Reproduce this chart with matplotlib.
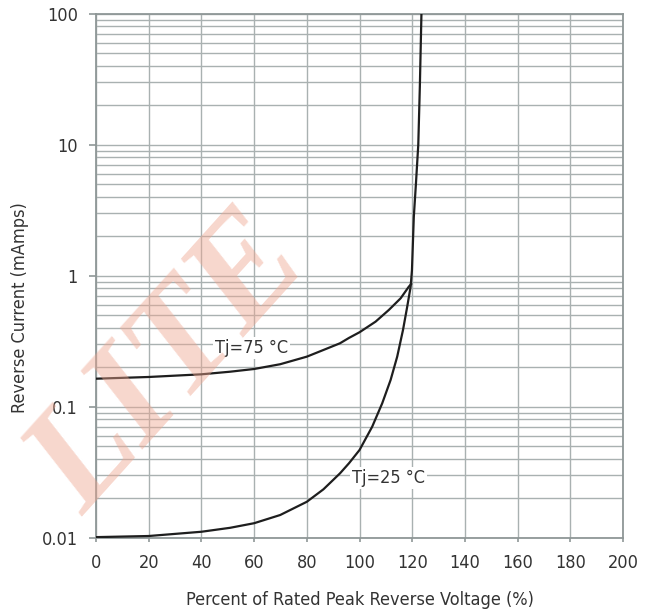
import matplotlib
matplotlib.use('Agg')
import matplotlib.pyplot as plt
from matplotlib import font_manager
from matplotlib.ticker import LogLocator, NullFormatter, FixedLocator, FixedFormatter

# data
pct_25 = [0, 20, 40, 50.9, 60, 69.9, 80, 86.3, 92.6, 96, 100, 104.8, 108.6, 111.8,
          114.3, 116.5, 118.1, 119.4, 119.9, 120.6, 121.4, 122.3, 122.9, 123.5]
cur_25 = [0.0101, 0.0103, 0.0111, 0.0119, 0.0129, 0.0149, 0.0188, 0.0234, 0.031,
          0.037, 0.0467, 0.0703, 0.106, 0.160, 0.241, 0.385, 0.580, 0.824, 1.1,
          2.8, 5.0, 10, 28, 100]

pct_75 = [0, 20, 40, 50.9, 60, 69.9, 80, 86.3, 92.6, 96, 100, 106.1, 111.1,
          115.6, 118.7, 119.6]
cur_75 = [0.1636, 0.1686, 0.1767, 0.185, 0.194, 0.211, 0.241, 0.271, 0.305, 0.335,
          0.370, 0.446, 0.547, 0.672, 0.824, 0.864]

x_ticks = [0, 20, 40, 60, 80, 100, 120, 140, 160, 180, 200]
y_ticks = [0.01, 0.1, 1, 10, 100]
y_labels = ['0.01', '0.1', '1', '10', '100']

grid_col = '#a9b1b1'
text_col = '#333333'

# condensed face if there is one, else the narrower Liberation Sans
fp = font_manager.FontProperties(family='DejaVu Sans', stretch='condensed')
if 'Condensed' in font_manager.findfont(fp):
    fnt = dict(family=['DejaVu Sans'], stretch='condensed', size=13)
else:
    fnt = dict(family=['Liberation Sans', 'DejaVu Sans'], size=12.5)

fig = plt.figure(figsize=(6.5, 6.15), dpi=100)
ax = fig.add_axes([0.1477, 0.1257, 0.8108, 0.852])

ax.set_yscale('log')
ax.set_xlim(0, 200)
ax.set_ylim(0.01, 100)

ax.xaxis.set_major_locator(FixedLocator(x_ticks))
ax.yaxis.set_major_locator(FixedLocator(y_ticks))
ax.yaxis.set_major_formatter(FixedFormatter(y_labels))
ax.yaxis.set_minor_locator(LogLocator(base=10, subs=range(2, 10)))
ax.yaxis.set_minor_formatter(NullFormatter())

ax.grid(True, which='both', color=grid_col, linewidth=1.0, zorder=0)
ax.set_axisbelow(True)

for s in ax.spines.values():
    s.set_color('#8f9797')
    s.set_linewidth(1.3)

ax.tick_params(axis='y', which='major', length=5, width=1.2, color='#8f9797',
               pad=8, labelcolor=text_col)
ax.tick_params(axis='y', which='minor', length=0)
ax.tick_params(axis='x', which='major', length=3, width=1.2, color='#8f9797',
               pad=9, labelcolor=text_col)
for lbl in ax.get_xticklabels() + ax.get_yticklabels():
    lbl.set_fontproperties(font_manager.FontProperties(**fnt))

ax.plot(pct_25, cur_25, color='#1e1e1e', linewidth=1.6, zorder=3)
ax.plot(pct_75, cur_75, color='#1e1e1e', linewidth=1.6, zorder=3)

ax.text(59, 0.282, 'Tj=75 °C', color=text_col, ha='center', va='center', zorder=4,
        bbox=dict(facecolor='white', edgecolor='none', pad=1.5), **fnt)
ax.text(111, 0.0284, 'Tj=25 °C', color=text_col, ha='center', va='center', zorder=4,
        bbox=dict(facecolor='white', edgecolor='none', pad=1.5), **fnt)

fig.text(359.5 / 650, 1 - 600 / 615, 'Percent of Rated Peak Reverse Voltage (%)',
         color=text_col, ha='center', va='center', **fnt)
fig.text(20 / 650, 1 - 308 / 615, 'Reverse Current (mAmps)', color=text_col,
         ha='center', va='center', rotation=90, **fnt)

# watermark
fig.text(0.262, 0.405, 'LITE', family=['Liberation Serif', 'DejaVu Serif'],
         fontsize=108, fontweight='bold', style='italic', color='#efa690',
         alpha=0.45, rotation=48, ha='center', va='center', zorder=10)

fig.savefig('out.png', dpi=100)
